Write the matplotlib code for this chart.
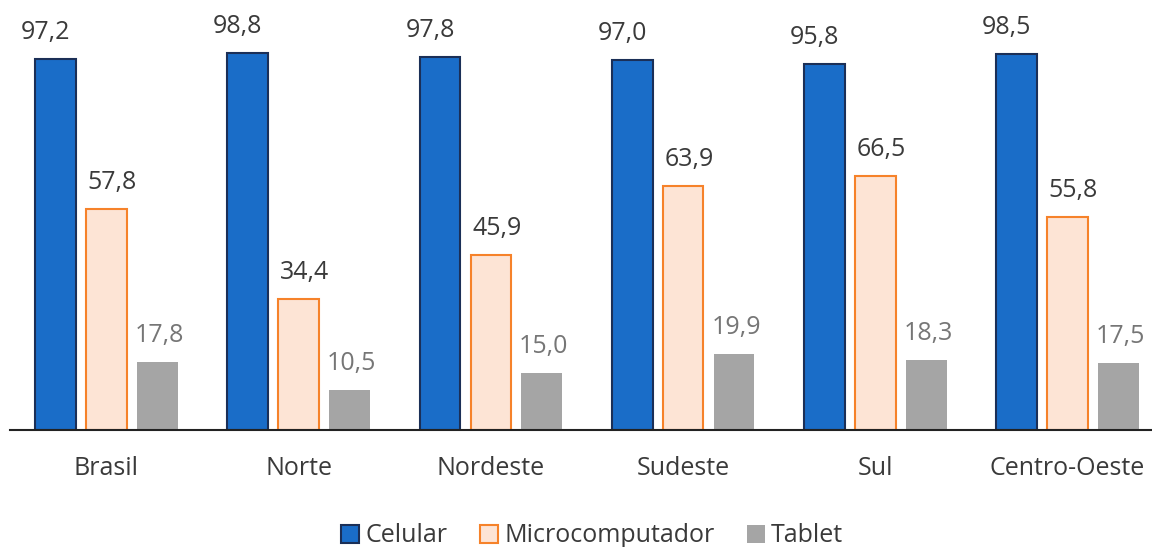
import matplotlib
matplotlib.use("Agg")
import matplotlib.pyplot as plt
import numpy as np

categories = ["Brasil", "Norte", "Nordeste", "Sudeste", "Sul", "Centro-Oeste"]
celular = [97.2, 98.8, 97.8, 97.0, 95.8, 98.5]
micro = [57.8, 34.4, 45.9, 63.9, 66.5, 55.8]
tablet = [17.8, 10.5, 15.0, 19.9, 18.3, 17.5]
series_names = ["Celular", "Microcomputador", "Tablet"]

plt.rcParams['font.family'] = ['Open Sans', 'DejaVu Sans']

W, H = 1152, 547
fig = plt.figure(figsize=(W/100, H/100), dpi=100)
base_px = 430
ax = fig.add_axes([10/W, (H-base_px)/H, 1 - 10/W, base_px/H])

x = np.arange(len(categories))
bw = 0.212
off = 0.265

b1 = ax.bar(x - off, celular, bw, color="#1a6dc8", edgecolor="#1b2f57", linewidth=1.5, label=series_names[0])
b2 = ax.bar(x, micro, bw, color="#fde4d5", edgecolor="#f6822a", linewidth=1.5, label=series_names[1])
b3 = ax.bar(x + off, tablet, bw, color="#a5a5a5", edgecolor="none", label=series_names[2])

def fmt(v):
    return f"{v:.1f}".replace(".", ",")

fs = 18
for i in range(len(categories)):
    ax.annotate(fmt(celular[i]), (x[i] - off, celular[i]), xytext=(-10, 20), textcoords="offset pixels",
                ha="center", va="baseline", fontsize=fs, color="#3a3a3a")
    ax.annotate(fmt(micro[i]), (x[i], micro[i]), xytext=(6, 20), textcoords="offset pixels",
                ha="center", va="baseline", fontsize=fs, color="#3a3a3a")
    ax.annotate(fmt(tablet[i]), (x[i] + off, tablet[i]), xytext=(2, 20), textcoords="offset pixels",
                ha="center", va="baseline", fontsize=fs, color="#767676")

ax.set_xlim((10 - 106.5) / 192.2, (1152 - 106.5) / 192.2)
ax.set_ylim(0, base_px / 3.817)
for s in ["top", "right", "left"]:
    ax.spines[s].set_visible(False)
ax.spines["bottom"].set_color("#222222")
ax.spines["bottom"].set_linewidth(1.5)
ax.set_yticks([])
ax.set_xticks(x)
ax.set_xticklabels(categories, fontsize=fs, color="#3a3a3a")
ax.tick_params(axis="x", length=0, pad=19)

fig.legend(handles=[b1, b2, b3], loc="center", bbox_to_anchor=(0.514, 1 - 536/H), ncol=3,
           frameon=False, fontsize=fs, handlelength=0.72, handleheight=0.72, handletextpad=0.25,
           columnspacing=1.3, labelcolor="#3a3a3a", borderpad=0)

fig.savefig("out.png", dpi=100)
